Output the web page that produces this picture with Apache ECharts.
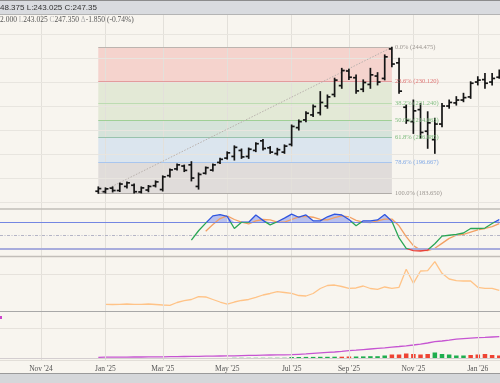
<!DOCTYPE html>
<html><head><meta charset="utf-8">
<script src="https://cdn.jsdelivr.net/npm/echarts@6/dist/echarts.min.js"></script>
<style>html,body{margin:0;padding:0;background:#f8f5ef}#c{width:500px;height:383px}</style>
</head><body><div id="c"></div><script>
// ---- data (weekly bars, index 0 = week of 25 Dec 2024) ----
const tickWeeks = [-8, 1, 9, 18, 27, 35, 44, 53];
const tickLabels = ["Nov '24", "Jan '25", "Mar '25", "May '25", "Jul '25", "Sep '25", "Nov '25", "Jan '26"];
const priceTicks = [180, 190, 200, 210, 220, 230, 240, 250];

const opens  = [184.5,184.3,185.8,184.8,186.5,187.0,184.2,185.0,186.8,185.2,191.0,193.8,195.0,195.5,186.5,192.0,193.3,196.5,198.3,199.0,201.5,199.0,201.5,205.5,202.6,200.2,200.8,204.0,211.0,214.2,216.3,217.2,220.0,224.8,228.5,234.6,231.8,227.0,229.0,232.5,231.5,243.8,238.0,219.5,213.5,218.5,209.5,206.0,212.5,220.0,221.3,222.5,223.8,230.0,231.0,230.0,232.0];
const highs  = [186.3,185.9,186.3,187.9,188.4,187.5,186.3,186.9,188.8,190.9,193.8,195.9,195.4,196.8,192.1,194.6,195.9,198.2,200.9,203.4,202.1,202.5,204.7,206.1,203.1,202.4,203.8,212.1,214.2,217.6,220.4,226.0,224.6,231.6,235.7,235.3,232.9,230.9,235.7,233.9,241.3,244.475,239.9,220.4,222.5,221.1,217.6,214.9,221.1,222.5,223.9,225.3,230.1,232.2,233.6,233.6,235.0];
const lows   = [183.65,183.8,184.2,184.4,185.9,183.8,183.8,184.3,186.3,184.6,190.4,193.4,192.7,188.8,185.4,191.7,192.9,196.1,197.9,197.5,198.2,198.2,201.0,201.7,200.3,199.6,200.3,203.4,210.0,213.5,215.6,216.3,219.1,223.9,227.4,231.1,225.3,226.0,227.4,228.8,230.9,236.4,225.3,212.8,208.6,206.6,202.4,200.3,211.4,219.1,220.4,221.8,223.2,228.8,227.4,228.8,231.6];
const closes = [185.6,185.5,184.8,187.5,188.0,184.3,185.9,186.5,188.4,190.5,193.4,195.5,193.2,190.0,191.5,194.3,195.5,197.8,200.5,202.8,198.8,202.0,204.3,202.3,200.8,201.8,203.3,211.5,213.5,217.0,219.8,221.5,223.8,230.8,234.8,232.0,226.3,229.8,233.0,230.0,240.5,237.5,226.2,214.0,218.0,209.0,213.0,212.5,220.0,221.5,222.5,223.5,229.5,230.8,229.5,231.5,234.0];

const fibPcts   = ["0.0%", "23.6%", "38.2%", "50.0%", "61.8%", "78.6%", "100.0%"];
const fibValues = [244.475, 230.120, 221.240, 214.063, 206.885, 196.667, 183.650];
const fibStartWeek = 0, fibEndWeek = 41;

const stochFast = [null,null,null,null,null,null,null,null,null,null,null,null,null,
  40,61,78,94,97,93,66,80,80,96,84,74,81,89,98,91,96,83,83,92,98,96,86,72,83,83,85,97,82,45,22,17,16,18,32,49,51,53,56,66,66,67,77,86];
const stochSlow = [null,null,null,null,null,null,null,null,null,null,null,null,null,null,null,
  60,75,88,94,86,80,76,83,86,85,80,80,86,92,93,91,86,85,90,94,92,84,80,79,83,87,87,72,48,28,18,17,22,33,44,51,53,58,63,66,70,77];

const volatility = [null,2.03,1.97,2.03,2.1,2.03,2.03,2.1,1.97,1.84,1.76,2.5,2.97,3.29,4.03,3.95,3.29,2.63,2.1,2.63,3.03,3.29,3.82,4.47,4.87,5.34,5.13,4.92,4.34,4.21,4.87,6.18,6.97,7.1,6.71,6.24,6.32,6.84,6.18,5.97,6.58,6.24,6.5,11.24,7.55,10.79,10.87,13.24,10.18,8.68,8.24,8.16,8.16,6.5,6.24,6.24,5.66];

const cumLine = [0.7,0.8,0.8,0.9,0.9,1.0,1.0,1.1,1.1,1.2,1.3,1.4,1.5,1.6,1.7,1.8,1.9,2.0,2.1,2.2,2.4,2.6,2.7,2.9,3.0,3.1,3.2,3.3,3.7,4.1,4.6,5.1,5.6,6.0,6.6,7.3,7.8,8.4,9.0,9.6,10.2,10.9,11.5,12.2,13.0,13.9,15.0,16.3,17.0,17.8,18.8,19.3,19.8,20.3,20.6,21.0,21.3];
const histVals = [null,null,null,null,null,null,null,null,null,null,null,null,null,null,null,null,null,null,null,
  0.8,0.8,0.8,0.8,0.8,0.8,0.9,1.0,1.0,1.0,1.1,1.1,1.2,1.2,1.3,-1.3,-1.5,1.5,1.6,1.8,1.8,2.5,-3.5,-3.5,-4.5,-4.0,-3.5,-4.0,5.5,4.0,3.5,2.5,2.5,-3.0,-3.5,-4.0,-3.0,-2.5];

// ---- styles ----
const fibLineColors  = ['#bcb4af','#e39c9c','#bddcb2','#9fcf96','#98c2ad','#a9c6ee','#b0aca8'];
const fibLabelColors = ['#9a9590','#e07474','#88c288','#7dbb7d','#7dbb7d','#82aae6','#9a9590'];
const fibBandColors  = ['rgba(239,154,150,0.38)','rgba(191,214,173,0.38)','rgba(191,214,173,0.38)','rgba(154,196,185,0.38)','rgba(171,202,236,0.38)','rgba(185,179,185,0.38)'];

const X_MIN = -13.73, X_MAX = 56.1;
const pairs = arr => arr.map((v, i) => v == null ? null : [i, v]).filter(Boolean);

const chart = echarts.init(document.getElementById('c'), null, {renderer: 'canvas', width: 500, height: 383});

const grids = [
  {left: 0, right: 0, top: 15, height: 345},
  {left: 0, right: 0, top: 15, height: 194},
  {left: 0, right: 0, top: 209, height: 48},
  {left: 0, right: 0, top: 257, height: 55},
  {left: 0, right: 0, top: 312, height: 46}
];
const hiddenX = g => ({gridIndex: g, type: 'value', min: X_MIN, max: X_MAX, show: false});
const hiddenY = (g, mn, mx) => ({gridIndex: g, type: 'value', min: mn, max: mx, show: false});

const fibLines = fibValues.map((v, k) => [
  {coord: [fibStartWeek, v], lineStyle: {color: fibLineColors[k], width: 1, type: 'solid'},
   label: {show: true, position: 'end', distance: 3, formatter: fibPcts[k] + ' (' + v.toFixed(3) + ')',
           color: fibLabelColors[k], fontSize: 6.5, fontFamily: 'Liberation Serif', padding: [0, 0, 6, 0]}},
  {coord: [fibEndWeek, v]}
]);
fibLines.push([
  {coord: [fibStartWeek, fibValues[6]], lineStyle: {color: '#b9b1ad', width: 1, type: [1.5, 1.5]}, label: {show: false}},
  {coord: [fibEndWeek, fibValues[0]]}
]);
const fibAreas = fibBandColors.map((c, k) => [
  {coord: [fibStartWeek, fibValues[k]], itemStyle: {color: c}},
  {coord: [fibEndWeek, fibValues[k + 1]]}
]);

const option = {
  animation: false,
  backgroundColor: '#f8f5ef',
  grid: grids,
  xAxis: [
    {gridIndex: 0, type: 'value', min: X_MIN, max: X_MAX,
     axisLine: {show: false}, axisTick: {show: false}, splitLine: {show: false},
     axisLabel: {customValues: tickWeeks, formatter: v => tickLabels[tickWeeks.indexOf(v)] || '',
                 fontFamily: 'Liberation Serif', fontSize: 7.5, color: '#555', margin: 5}},
    hiddenX(1), hiddenX(2), hiddenX(3), hiddenX(4)
  ],
  yAxis: [
    hiddenY(0, 0, 1),
    hiddenY(1, 177.1, 257.93),
    hiddenY(2, 2.67, 109.3),
    hiddenY(3, 0, 14.47),
    hiddenY(4, 0, 46)
  ],
  visualMap: [{
    type: 'piecewise', show: false, seriesIndex: 7, dimension: 1,
    pieces: [{lt: 20, color: '#e8413a'}, {gte: 20, lte: 80, color: '#2aa655'}, {gt: 80, color: '#2f55e0'}]
  }],
  series: [
    // 0 vertical gridlines
    {type: 'line', xAxisIndex: 0, yAxisIndex: 0, data: [], z: 0, silent: true,
     markLine: {silent: true, symbol: ['none', 'none'], label: {show: false},
       lineStyle: {color: '#e3e0da', width: 1, type: 'solid'}, data: tickWeeks.map(w => ({xAxis: w}))}},
    // 1 horizontal price gridlines
    {type: 'line', xAxisIndex: 1, yAxisIndex: 1, data: [], z: 1, silent: true,
     markLine: {silent: true, symbol: ['none', 'none'], label: {show: false},
       lineStyle: {color: '#e8e5df', width: 1, type: 'solid'}, data: priceTicks.map(p => ({yAxis: p}))}},
    // 2 fibonacci
    {type: 'line', xAxisIndex: 1, yAxisIndex: 1, data: [], z: 2, silent: true,
     markArea: {silent: true, data: fibAreas},
     markLine: {silent: true, symbol: ['none', 'none'], data: fibLines}},
    // 3 OHLC bars
    {type: 'custom', xAxisIndex: 1, yAxisIndex: 1, z: 5,
     data: highs.map((h, i) => [i, opens[i], h, lows[i], closes[i]]),
     renderItem: (params, api) => {
       const x = api.value(0);
       const pH = api.coord([x, api.value(2)]), pL = api.coord([x, api.value(3)]);
       const pO = api.coord([x, api.value(1)]), pC = api.coord([x, api.value(4)]);
       const st = {stroke: '#151515', lineWidth: 1.7};
       return {type: 'group', children: [
         {type: 'line', shape: {x1: pH[0], y1: pH[1] - 0.5, x2: pL[0], y2: pL[1] + 0.5}, style: st},
         {type: 'line', shape: {x1: pO[0] - 3, y1: pO[1], x2: pO[0], y2: pO[1]}, style: st},
         {type: 'line', shape: {x1: pC[0], y1: pC[1], x2: pC[0] + 3, y2: pC[1]}, style: st}
       ]};
     }},
    // 4 stoch overbought fill
    {type: 'line', xAxisIndex: 2, yAxisIndex: 2, z: 3, symbol: 'none', silent: true,
     data: pairs(stochFast).map(p => [p[0], Math.max(p[1], 80)]),
     lineStyle: {width: 0, opacity: 0}, areaStyle: {origin: 80, color: 'rgba(70,95,235,0.5)'}},
    // 5 stoch oversold fill
    {type: 'line', xAxisIndex: 2, yAxisIndex: 2, z: 3, symbol: 'none', silent: true,
     data: pairs(stochFast).map(p => [p[0], Math.min(p[1], 20)]),
     lineStyle: {width: 0, opacity: 0}, areaStyle: {origin: 20, color: 'rgba(240,60,60,0.55)'}},
    // 6 slow stoch
    {type: 'line', xAxisIndex: 2, yAxisIndex: 2, z: 4, symbol: 'none', data: pairs(stochSlow),
     lineStyle: {color: '#f2a064', width: 1.3},
     markLine: {silent: true, symbol: ['none', 'none'], label: {show: false}, data: [
       {yAxis: 80, lineStyle: {color: '#7486e2', width: 1, type: 'solid'}},
       {yAxis: 50, lineStyle: {color: '#b4b4c6', width: 1, type: [3, 1.5, 1, 1.5]}},
       {yAxis: 20, lineStyle: {color: '#a8acdc', width: 2, type: 'solid'}}
     ]}},
    // 7 fast stoch
    {type: 'line', xAxisIndex: 2, yAxisIndex: 2, z: 5, symbol: 'none', data: pairs(stochFast),
     lineStyle: {width: 1.3}},
    // 8 volatility line
    {type: 'line', xAxisIndex: 3, yAxisIndex: 3, z: 4, symbol: 'none', data: pairs(volatility),
     lineStyle: {color: '#ffc387', width: 1.3},
     markLine: {silent: true, symbol: ['none', 'none'], label: {show: false},
       data: [{yAxis: 10, lineStyle: {color: '#e6e2dc', width: 1, type: 'solid'}}]}},
    // 9 histogram
    {type: 'bar', xAxisIndex: 4, yAxisIndex: 4, z: 3, barWidth: 4.5,
     data: histVals.map((v, i) => v == null ? null : {value: [i, Math.abs(v)],
       itemStyle: {color: v < 0 ? '#ee4433' : (i < 27 ? '#bfe3c6' : '#1fae4f')}}).filter(Boolean)},
    // 10 cumulative line
    {type: 'line', xAxisIndex: 4, yAxisIndex: 4, z: 4, symbol: 'none', data: pairs(cumLine),
     lineStyle: {color: '#c655d2', width: 1.3},
     markLine: {silent: true, symbol: ['none', 'none'], label: {show: false}, data: [
       {yAxis: 30, lineStyle: {color: '#e6e2dc', width: 1, type: 'solid'}}
     ]}}
  ],
  graphic: [
    {type: 'rect', shape: {x: 0, y: 0, width: 500, height: 14}, style: {fill: '#d9dbdf'}, z: 100},
    {type: 'line', shape: {x1: 0, y1: 0.5, x2: 500, y2: 0.5}, style: {stroke: '#8c8c8c', lineWidth: 1}, z: 101},
    {type: 'line', shape: {x1: 0, y1: 14.5, x2: 500, y2: 14.5}, style: {stroke: '#b4b4b4', lineWidth: 1}, z: 101},
    {type: 'text', x: 0, y: 7.5, style: {text: '48.375 L:243.025 C:247.35', font: '8px "Liberation Sans"', fill: '#333', verticalAlign: 'middle'}, z: 102},
    {type: 'text', x: 0, y: 20.5, z: 102, style: {
      text: '{n|2.000 }{l|L}{n|243.025 }{l|C}{n|247.350 }{l|Δ}{n|-1.850 (-0.74%)}',
      verticalAlign: 'middle',
      rich: {n: {fontFamily: 'Liberation Serif', fontSize: 7.5, fill: '#555'},
             l: {fontFamily: 'Liberation Serif', fontSize: 7.5, fill: '#b0b0b0'}}}},
    // panel separators
    {type: 'line', shape: {x1: 0, y1: 209, x2: 500, y2: 209}, style: {stroke: '#c2beb9', lineWidth: 1.5}, z: 50},
    {type: 'line', shape: {x1: 0, y1: 256.5, x2: 500, y2: 256.5}, style: {stroke: '#c2beb9', lineWidth: 1.5}, z: 50},
    {type: 'line', shape: {x1: 0, y1: 311.5, x2: 500, y2: 311.5}, style: {stroke: '#a8a8a8', lineWidth: 1}, z: 50},
    {type: 'line', shape: {x1: 0, y1: 358.5, x2: 500, y2: 358.5}, style: {stroke: '#d4ced0', lineWidth: 1}, z: 50},
    {type: 'line', shape: {x1: 0, y1: 360.5, x2: 500, y2: 360.5}, style: {stroke: '#e2ded8', lineWidth: 1}, z: 50},
    {type: 'rect', shape: {x: 0, y: 316, width: 2, height: 3}, style: {fill: '#cc44cc'}, z: 50},
    // bottom bar
    {type: 'rect', shape: {x: 0, y: 373, width: 500, height: 10}, style: {fill: '#d5d7da'}, z: 100},
    {type: 'line', shape: {x1: 0, y1: 373.5, x2: 500, y2: 373.5}, style: {stroke: '#9a9a9a', lineWidth: 1}, z: 101}
  ]
};
chart.setOption(option);
</script></body></html>
